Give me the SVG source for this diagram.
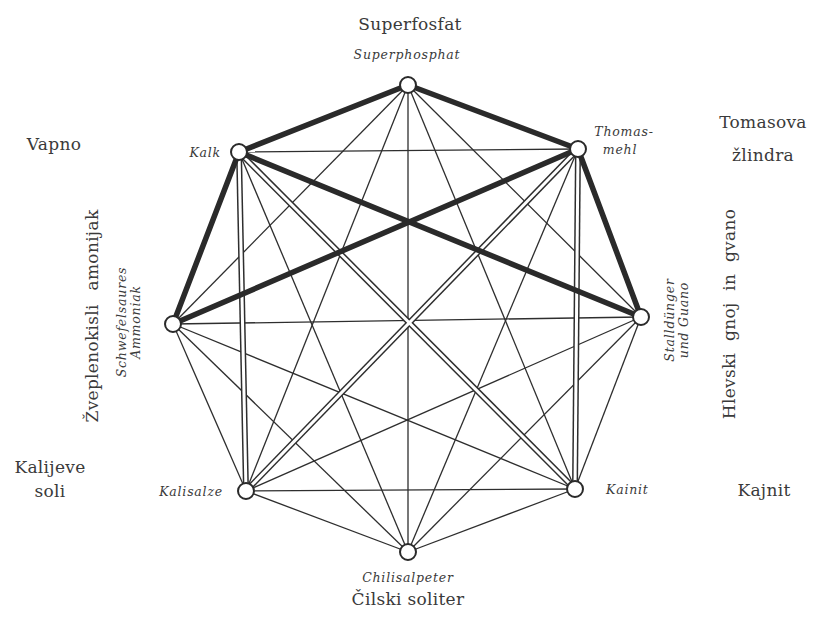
<svg xmlns="http://www.w3.org/2000/svg" width="817" height="619" viewBox="0 0 817 619">
<style>
.thin{stroke:#2e2e2e;stroke-width:1.3;fill:none}
.dbl{stroke:#2e2e2e;stroke-width:6;fill:none}
.dblw{stroke:#fff;stroke-width:3;fill:none}
.thick{stroke:#2a2a2a;stroke-width:5.5;fill:none;stroke-linecap:round}
.node{fill:#fff;stroke:#2a2a2a;stroke-width:2}
.lab{font-family:'DejaVu Serif',serif;font-size:17px;letter-spacing:0.3px;fill:#3a3a3a}
.de{font-family:'DejaVu Serif',serif;font-style:italic;font-size:12.5px;letter-spacing:0.8px;fill:#3a3a3a}
</style>
<rect width="817" height="619" fill="#fff"/>
<g id="connectors">
<line class="thin" x1="408" y1="85" x2="641" y2="317"/>
<line class="thin" x1="408" y1="85" x2="575" y2="489"/>
<line class="thin" x1="408" y1="85" x2="408" y2="552"/>
<line class="thin" x1="408" y1="85" x2="246" y2="491"/>
<line class="thin" x1="408" y1="85" x2="173" y2="324"/>
<line class="thin" x1="578" y1="149" x2="239" y2="152"/>
<line class="thin" x1="578" y1="149" x2="408" y2="552"/>
<line class="thin" x1="239" y1="152" x2="408" y2="552"/>
<line class="thin" x1="641" y1="317" x2="575" y2="489"/>
<line class="thin" x1="641" y1="317" x2="408" y2="552"/>
<line class="thin" x1="641" y1="317" x2="246" y2="491"/>
<line class="thin" x1="641" y1="317" x2="173" y2="324"/>
<line class="thin" x1="575" y1="489" x2="408" y2="552"/>
<line class="thin" x1="575" y1="489" x2="246" y2="491"/>
<line class="thin" x1="575" y1="489" x2="173" y2="324"/>
<line class="thin" x1="408" y1="552" x2="246" y2="491"/>
<line class="thin" x1="408" y1="552" x2="173" y2="324"/>
<line class="thin" x1="246" y1="491" x2="173" y2="324"/>
<line class="dbl" x1="239" y1="152" x2="246" y2="491"/>
<line class="dbl" x1="578" y1="149" x2="575" y2="489"/>
<line class="dbl" x1="239" y1="152" x2="575" y2="489"/>
<line class="dbl" x1="578" y1="149" x2="246" y2="491"/>
<line class="dblw" x1="239" y1="152" x2="246" y2="491"/>
<line class="dblw" x1="578" y1="149" x2="575" y2="489"/>
<line class="dblw" x1="239" y1="152" x2="575" y2="489"/>
<line class="dblw" x1="578" y1="149" x2="246" y2="491"/>
<line class="thick" x1="408" y1="85" x2="239" y2="152"/>
<line class="thick" x1="408" y1="85" x2="578" y2="149"/>
<line class="thick" x1="239" y1="152" x2="173" y2="324"/>
<line class="thick" x1="239" y1="152" x2="641" y2="317"/>
<line class="thick" x1="578" y1="149" x2="173" y2="324"/>
<line class="thick" x1="578" y1="149" x2="641" y2="317"/>
</g>
<g id="n-superphosphat">
<circle class="node" cx="408" cy="85" r="8"/>
<text class="lab" x="410" y="30" text-anchor="middle">Superfosfat</text>
<text class="de" x="407" y="59" text-anchor="middle">Superphosphat</text>
</g>
<g id="n-thomasmehl">
<circle class="node" cx="578" cy="149" r="8"/>
<text class="de" x="624" y="136" text-anchor="middle">Thomas-</text>
<text class="de" x="620" y="154" text-anchor="middle">mehl</text>
<text class="lab" x="763" y="128" text-anchor="middle">Tomasova</text>
<text class="lab" x="763" y="161" text-anchor="middle">žlindra</text>
</g>
<g id="n-stallduenger">
<circle class="node" cx="641" cy="317" r="8"/>
<text class="de" transform="translate(674,320) rotate(-90)" text-anchor="middle">Stalldünger</text>
<text class="de" transform="translate(688,320) rotate(-90)" text-anchor="middle">und Guano</text>
<text class="lab" transform="translate(735,314) rotate(-90)" text-anchor="middle" word-spacing="6">Hlevski gnoj in gvano</text>
</g>
<g id="n-kainit">
<circle class="node" cx="575" cy="489" r="8"/>
<text class="de" x="606" y="494">Kainit</text>
<text class="lab" x="764" y="496" text-anchor="middle">Kajnit</text>
</g>
<g id="n-chilisalpeter">
<circle class="node" cx="408" cy="552" r="8"/>
<text class="de" x="408" y="582" text-anchor="middle">Chilisalpeter</text>
<text class="lab" x="408" y="605" text-anchor="middle">Čilski soliter</text>
</g>
<g id="n-kalisalze">
<circle class="node" cx="246" cy="491" r="8"/>
<text class="de" x="223" y="496" text-anchor="end">Kalisalze</text>
<text class="lab" x="50" y="473" text-anchor="middle">Kalijeve</text>
<text class="lab" x="50" y="497" text-anchor="middle">soli</text>
</g>
<g id="n-ammoniak">
<circle class="node" cx="173" cy="324" r="8"/>
<text class="de" transform="translate(126,322) rotate(-90)" text-anchor="middle">Schwefelsaures</text>
<text class="de" transform="translate(140,322) rotate(-90)" text-anchor="middle">Ammoniak</text>
<text class="lab" transform="translate(98,316) rotate(-90)" text-anchor="middle" word-spacing="8">Žveplenokisli amonijak</text>
</g>
<g id="n-kalk">
<circle class="node" cx="239" cy="152" r="8"/>
<text class="de" x="221" y="157" text-anchor="end">Kalk</text>
<text class="lab" x="54" y="150" text-anchor="middle">Vapno</text>
</g>
</svg>
